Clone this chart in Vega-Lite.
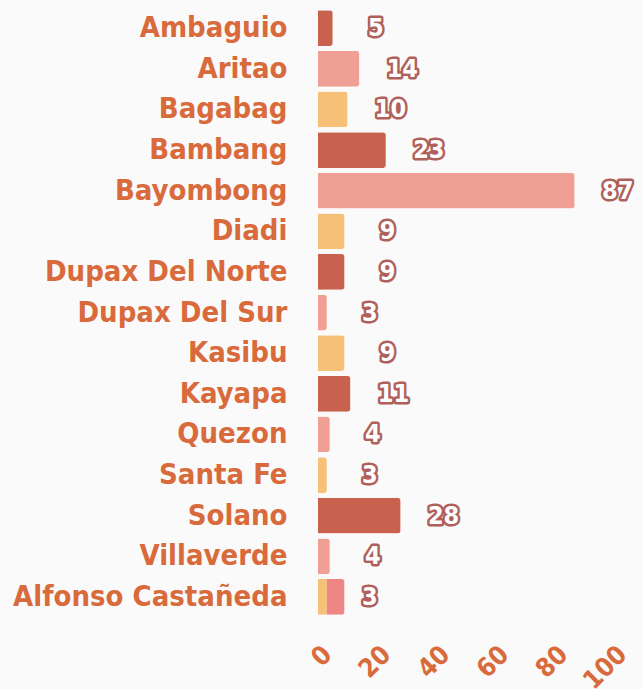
{
  "$schema": "https://vega.github.io/schema/vega-lite/v6.json",
  "width": 295,
  "height": 611,
  "autosize": {"type": "none"},
  "padding": {"left": 318, "top": 7, "right": 30, "bottom": 71},
  "background": "#fafafa",
  "config": {"view": {"stroke": null}},
  "datasets": {
    "bars": [
      {"municipality": "Ambaguio", "count": 5, "series": "a", "seg": 1},
      {"municipality": "Aritao", "count": 14, "series": "b", "seg": 1},
      {"municipality": "Bagabag", "count": 10, "series": "c", "seg": 1},
      {"municipality": "Bambang", "count": 23, "series": "a", "seg": 1},
      {"municipality": "Bayombong", "count": 87, "series": "b", "seg": 1},
      {"municipality": "Diadi", "count": 9, "series": "c", "seg": 1},
      {"municipality": "Dupax Del Norte", "count": 9, "series": "a", "seg": 1},
      {"municipality": "Dupax Del Sur", "count": 3, "series": "b", "seg": 1},
      {"municipality": "Kasibu", "count": 9, "series": "c", "seg": 1},
      {"municipality": "Kayapa", "count": 11, "series": "a", "seg": 1},
      {"municipality": "Quezon", "count": 4, "series": "b", "seg": 1},
      {"municipality": "Santa Fe", "count": 3, "series": "c", "seg": 1},
      {"municipality": "Solano", "count": 28, "series": "a", "seg": 1},
      {"municipality": "Villaverde", "count": 4, "series": "b", "seg": 1},
      {"municipality": "Alfonso Castañeda", "count": 3, "series": "c", "seg": 1},
      {"municipality": "Alfonso Castañeda", "count": 6, "series": "d", "seg": 2}
    ],
    "labels": [
      {"municipality": "Ambaguio", "count": 5},
      {"municipality": "Aritao", "count": 14},
      {"municipality": "Bagabag", "count": 10},
      {"municipality": "Bambang", "count": 23},
      {"municipality": "Bayombong", "count": 87},
      {"municipality": "Diadi", "count": 9},
      {"municipality": "Dupax Del Norte", "count": 9},
      {"municipality": "Dupax Del Sur", "count": 3},
      {"municipality": "Kasibu", "count": 9},
      {"municipality": "Kayapa", "count": 11},
      {"municipality": "Quezon", "count": 4},
      {"municipality": "Santa Fe", "count": 3},
      {"municipality": "Solano", "count": 28},
      {"municipality": "Villaverde", "count": 4},
      {"municipality": "Alfonso Castañeda", "count": 3}
    ]
  },
  "encoding": {
    "y": {
      "field": "municipality",
      "type": "nominal",
      "sort": ["Ambaguio", "Aritao", "Bagabag", "Bambang", "Bayombong", "Diadi", "Dupax Del Norte", "Dupax Del Sur", "Kasibu", "Kayapa", "Quezon", "Santa Fe", "Solano", "Villaverde", "Alfonso Castañeda"],
      "scale": {"paddingInner": 0.12, "paddingOuter": 0.08},
      "axis": {
        "title": null,
        "domain": false,
        "ticks": false,
        "labelPadding": 31,
        "labelColor": "#d96a3b",
        "labelFont": "DejaVu Sans Condensed",
        "labelFontWeight": "bold",
        "labelFontSize": 29,
        "labelLimit": 320
      }
    }
  },
  "layer": [
    {
      "data": {"name": "bars"},
      "mark": {"type": "bar", "cornerRadiusEnd": 3},
      "encoding": {
        "x": {
          "field": "count",
          "type": "quantitative",
          "stack": "zero",
          "scale": {"domain": [0, 100]},
          "axis": {
            "title": null,
            "domain": false,
            "ticks": false,
            "grid": false,
            "values": [0, 20, 40, 60, 80, 100],
            "labelAngle": -45,
            "labelAlign": "right",
            "labelBaseline": "middle",
            "labelOffset": 9,
            "labelPadding": 32,
            "labelColor": "#d96a3b",
            "labelFont": "DejaVu Sans Condensed",
            "labelFontWeight": "bold",
            "labelFontSize": 26,
            "labelOverlap": false
          }
        },
        "color": {
          "field": "series",
          "type": "nominal",
          "scale": {"domain": ["a", "b", "c", "d"], "range": ["#c8624f", "#ef9f94", "#f6c077", "#ee8686"]},
          "legend": null
        },
        "order": {"field": "seg"}
      }
    },
    {
      "data": {"name": "labels"},
      "mark": {"type": "text", "dx": 43, "align": "center", "baseline": "middle", "font": "DejaVu Sans Condensed", "fontWeight": "bold", "fontSize": 25, "stroke": "#b0605a", "strokeWidth": 5, "strokeJoin": "round", "fill": "#b0605a"},
      "encoding": {
        "x": {"field": "count", "type": "quantitative"},
        "text": {"field": "count", "type": "quantitative"}
      }
    },
    {
      "data": {"name": "labels"},
      "mark": {"type": "text", "dx": 43, "align": "center", "baseline": "middle", "font": "DejaVu Sans Condensed", "fontWeight": "bold", "fontSize": 25, "fill": "#ffffff"},
      "encoding": {
        "x": {"field": "count", "type": "quantitative"},
        "text": {"field": "count", "type": "quantitative"}
      }
    }
  ]
}
